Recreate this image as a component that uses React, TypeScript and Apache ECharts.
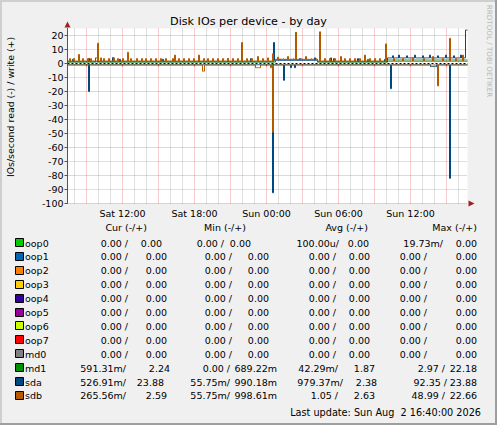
import React, { useEffect, useRef } from "react";
import * as echarts from "echarts";

// ---------- time axis: 5-minute steps, Sat 07:25 -> Sun 16:45 ----------
const START_MINUTE = 7 * 60 + 25;
const STEP_MINUTES = 5;
const STEPS = 400;

// ---------- devices ----------
const deviceNames = ["oop0", "oop1", "oop2", "oop3", "oop4", "oop5", "oop6", "oop7", "md0", "md1", "sda", "sdb"];

// base levels: [stepIndex, value] (value holds until the next entry); spikes: [stepIndex, value]
const zeroBase = [[0, 0]];
const md1WriteBase = [[0, 1.0], [208, 2.8], [250, 1.0], [320, 2.5]];
const md1WriteSpikes = [[28, 4], [29, 4], [228, 22.18], [300, 3]];
const md1ReadBase = [[0, 0.03]];
const md1ReadSpikes = [[21, 0.8], [205, 2.97]];

const sdaWriteBase = [[0, 1.3], [206, 2.2], [250, 1.3], [320, 4.0], [398, 23.88]];
const sdaWriteSpikes = [[5, 3], [21, 3.6], [45, 4.2], [52, 3], [95, 3], [131, 4], [160, 3.4], [183, 3.5], [206, 15], [212, 3], [232, 3.5], [247, 4], [263, 4], [266, 3.5], [290, 3.5], [317, 3], [325, 5.5], [331, 6], [339, 5.5], [347, 6], [355, 5.5], [362, 6], [370, 5.5], [378, 6], [386, 5.5], [393, 6]];
const sdaReadBase = [[0, 0.9], [363, 2.2], [369, 0.9]];
const sdaReadSpikes = [[21, 20], [205, 92.35], [216, 12], [223, 3], [227, 3], [323, 18], [382, 82]];

const sdbWriteBase = [[0, 1.8], [208, 3.0], [250, 1.8], [320, 1.5]];
const sdbWriteSpikes = [[2, 3.5], [6, 3.5], [11, 6.5], [15, 3.5], [20, 3.5], [23, 3.5], [30, 14.5], [33, 4], [36, 3.5], [41, 3.5], [46, 4], [50, 3.5], [55, 3.5], [60, 8], [63, 3.5], [69, 3.5], [74, 3.5], [78, 3.5], [83, 3.5], [88, 3.5], [93, 3.5], [98, 3.5], [105, 3.5], [107, 6], [111, 3.5], [116, 3.5], [121, 3.5], [126, 3.5], [131, 6], [136, 3.5], [140, 3.5], [145, 3.5], [150, 3.5], [155, 3.5], [160, 3.5], [165, 3.5], [170, 3.5], [174, 15], [179, 3.5], [184, 3.5], [190, 5], [195, 3.5], [200, 4], [205, 7], [210, 4.5], [215, 3.5], [220, 5], [225, 3.5], [228, 22], [233, 3.5], [238, 5], [243, 3.5], [248, 3.5], [252, 22.66], [257, 3.5], [262, 3.5], [267, 3.5], [273, 5], [277, 3.5], [282, 3.5], [287, 3.5], [292, 3.5], [297, 6], [302, 3.5], [307, 3.5], [312, 3.5], [318, 14], [326, 3.5], [335, 3.5], [345, 4], [356, 3.5], [365, 5], [375, 3.5], [382, 18], [388, 3.5], [395, 6]];
const sdbReadBase = [[0, 1.1], [188, 3], [193, 1.1]];
const sdbReadSpikes = [[135, 5.5], [136, 5.5], [203, 3], [205, 49], [370, 16]];

// ---------- legend values: [cur-, cur+, min-, min+, avg-, avg+, max-, max+] ----------
const zeroRow = ["0.00 /", "0.00", "0.00 /", "0.00", "0.00 /", "0.00", "0.00 /", "0.00"];
const oop0Row = ["0.00 /", "0.00", "0.00 /", "0.00", "100.00u/", "0.00", "19.73m/", "0.00"];
const md1Row = ["591.31m/", "2.24", "0.00 /", "689.22m", "42.29m/", "1.87", "2.97 /", "22.18"];
const sdaRow = ["526.91m/", "23.88", "55.75m/", "990.18m", "979.37m/", "2.38", "92.35 /", "23.88"];
const sdbRow = ["265.56m/", "2.59", "55.75m/", "998.61m", "1.05 /", "2.63", "48.99 /", "22.66"];
const legendRows = [oop0Row, zeroRow, zeroRow, zeroRow, zeroRow, zeroRow, zeroRow, zeroRow, zeroRow, md1Row, sdaRow, sdbRow];
const legendHeaders = ["Cur (-/+)", "Min (-/+)", "Avg (-/+)", "Max (-/+)"];
const lastUpdate = "Last update: Sun Aug  2 16:40:00 2026";
const yTickLabels = [-100, -90, -80, -70, -60, -50, -40, -30, -20, -10, 0, 10, 20];

// ---------- styles / layout ----------
const COLORS = ["#00CC00", "#0066B3", "#FF8000", "#FFCC00", "#330099", "#990099", "#CCFF00", "#FF0000", "#808080", "#008F00", "#00487D", "#B35A00"];
const FONT = "DejaVu Sans";
const FS = 9.5;
const GRID = { left: 67.5, top: 28.5, width: 400, height: 175 };
const COL_RIGHT_DEFAULT = [128, 167, 232, 269, 336, 370, 427, 477];
const COL_RIGHT_OVERRIDE: Record<number, number[]> = {
  0: [128, 162, 224, 251, 339, 369, 443, 477],
  9: [126, 170, 230, 277, 338, 375, 445, 477],
  10: [126, 164, 230, 277, 343, 377, 447, 477],
  11: [126, 167, 230, 277, 338, 375, 445, 477],
};
const HEADER_RIGHT = [147, 246, 368, 477];
const ROW0_Y = 243;
const ROW_STEP = 13.9;

function minuteOf(i: number) {
  return START_MINUTE + i * STEP_MINUTES;
}
function pad(n: number) {
  return n < 10 ? "0" + n : "" + n;
}
const categories = Array.from({ length: STEPS + 1 }, (_, i) => {
  const m = minuteOf(i);
  const day = m >= 1440 ? "Sun" : "Sat";
  const mm = m % 1440;
  return `${day} ${pad(Math.floor(mm / 60))}:${pad(mm % 60)}`;
});

function build(base: number[][], spikes: number[][], sign: number) {
  const sp = new Map<number, number>();
  spikes.forEach(([i, v]) => sp.set(i, v));
  const out: number[] = [];
  let b = 0;
  for (let i = 0; i <= STEPS; i++) {
    while (b + 1 < base.length && base[b + 1][0] <= i) b++;
    const v = sp.has(i) ? (sp.get(i) as number) : base[b][1];
    out.push(sign * v);
  }
  return out;
}

const seriesDefs = deviceNames.map((name) => {
  if (name === "md1") return { name, w: build(md1WriteBase, md1WriteSpikes, 1), r: build(md1ReadBase, md1ReadSpikes, -1) };
  if (name === "sda") return { name, w: build(sdaWriteBase, sdaWriteSpikes, 1), r: build(sdaReadBase, sdaReadSpikes, -1) };
  if (name === "sdb") return { name, w: build(sdbWriteBase, sdbWriteSpikes, 1), r: build(sdbReadBase, sdbReadSpikes, -1) };
  return { name, w: build(zeroBase, [], 1), r: build(zeroBase, [], -1) };
});

function txt(text: string, x: number, y: number, opts: any = {}) {
  const align = opts.align || "left";
  return {
    type: "text",
    x,
    y,
    rotation: opts.rotation || 0,
    z: 100,
    style: {
      text,
      fill: opts.fill || "#000",
      fontSize: opts.size || FS,
      fontFamily: FONT,
      align,
      textAlign: align,
      verticalAlign: "middle",
      textVerticalAlign: "middle",
    },
  };
}

export default function App() {
  const ref = useRef<HTMLDivElement>(null);
  useEffect(() => {
    document.body.style.margin = "0";
    const chart = echarts.init(ref.current as HTMLDivElement, null, { renderer: "svg" });

    const series: any[] = [];
    seriesDefs.forEach((d, k) => {
      series.push({
        type: "line", name: d.name + "_read", data: d.r, step: "end", symbol: "none", silent: true,
        lineStyle: { color: COLORS[k], width: 1 }, itemStyle: { color: COLORS[k] }, z: 2 + k * 2,
      });
      series.push({
        type: "line", name: d.name, data: d.w, step: "end", symbol: "none", silent: true,
        lineStyle: { color: COLORS[k], width: 1 }, itemStyle: { color: COLORS[k] }, z: 3 + k * 2,
      });
    });
    // zero rule drawn over the lines: white base with black dashes
    series.push({
      type: "line", name: "zero", data: [], silent: true, z: 40,
      markLine: {
        silent: true, symbol: "none", label: { show: false }, z: 40,
        data: [
          { yAxis: 0, lineStyle: { color: "#FFFFFF", width: 1, type: "solid" } },
          { yAxis: 0, lineStyle: { color: "#000000", width: 1, type: [2, 2] } },
        ],
      },
    });

    const graphics: any[] = [];
    // frame
    graphics.push({ type: "rect", shape: { x: 0, y: 0, width: 497, height: 2 }, style: { fill: "#CFCFCF" }, z: 90 });
    graphics.push({ type: "rect", shape: { x: 0, y: 0, width: 2, height: 425 }, style: { fill: "#CFCFCF" }, z: 90 });
    graphics.push({ type: "rect", shape: { x: 495, y: 0, width: 2, height: 425 }, style: { fill: "#9E9E9E" }, z: 91 });
    graphics.push({ type: "rect", shape: { x: 0, y: 423, width: 497, height: 2 }, style: { fill: "#9E9E9E" }, z: 91 });
    // arrows
    const gl = GRID.left, gt = GRID.top, gb = GRID.top + GRID.height, gr = GRID.left + GRID.width;
    graphics.push({ type: "polygon", shape: { points: [[gl, gt - 7], [gl - 3, gt - 1], [gl + 3, gt - 1]] }, style: { fill: "#A02020" }, z: 95 });
    graphics.push({ type: "polygon", shape: { points: [[gr + 7, gb], [gr + 1, gb - 3], [gr + 1, gb + 3]] }, style: { fill: "#A02020" }, z: 95 });
    // title, axis name, watermark
    graphics.push(txt("Disk IOs per device - by day", 248.5, 21, { align: "center", size: 11.2 }));
    graphics.push(txt("IOs/second read (-) / write (+)", 10, 107, { align: "center", size: 9.4, rotation: Math.PI / 2 }));
    graphics.push(txt("RRDTOOL / TOBI OETIKER", 489, 51, { align: "center", size: 7.2, rotation: -Math.PI / 2, fill: "#B8B8B8" }));
    // legend
    legendHeaders.forEach((h, j) => graphics.push(txt(h, HEADER_RIGHT[j], 227, { align: "right" })));
    deviceNames.forEach((name, k) => {
      const y = ROW0_Y + k * ROW_STEP;
      graphics.push({ type: "rect", shape: { x: 15.5, y: Math.round(y) - 4.5, width: 8, height: 8 }, style: { fill: COLORS[k], stroke: "#000", lineWidth: 1 }, z: 99 });
      graphics.push(txt(name, 25, y));
      const cols = COL_RIGHT_OVERRIDE[k] || COL_RIGHT_DEFAULT;
      legendRows[k].forEach((v, j) => graphics.push(txt(v, cols[j], y, { align: "right" })));
    });
    graphics.push(txt(lastUpdate, 481, 412, { align: "right", size: 9.7 }));

    chart.setOption({
      animation: false,
      backgroundColor: "#F0F0F0",
      grid: { ...GRID, show: true, backgroundColor: "#FFFFFF", borderWidth: 0, containLabel: false },
      xAxis: [
        {
          type: "category", data: categories, boundaryGap: false,
          axisLine: { show: true, lineStyle: { color: "#555", width: 1 } },
          axisTick: { show: true, interval: (i: number) => minuteOf(i) % 180 === 0, length: 3, lineStyle: { color: "#D24C4C" } },
          axisLabel: { interval: (i: number) => minuteOf(i) % 360 === 0, color: "#000", fontFamily: FONT, fontSize: FS, margin: 5 },
          splitLine: { show: true, interval: (i: number) => minuteOf(i) % 60 === 0 && minuteOf(i) % 180 !== 0, lineStyle: { color: "rgba(143,143,143,0.55)", width: 1, type: [1, 1] } },
        },
        {
          type: "category", data: categories, boundaryGap: false,
          axisLine: { show: false }, axisTick: { show: false }, axisLabel: { show: false },
          splitLine: { show: true, interval: (i: number) => minuteOf(i) % 180 === 0, lineStyle: { color: "rgba(227,90,90,0.6)", width: 1, type: [1, 1] } },
        },
      ],
      yAxis: {
        type: "value", min: -100, max: 25, interval: 5,
        axisLine: { show: true, lineStyle: { color: "#555", width: 1 } },
        axisTick: { show: true, customValues: yTickLabels, length: 3, lineStyle: { color: "#555" } },
        axisLabel: { customValues: yTickLabels, color: "#000", fontFamily: FONT, fontSize: FS, margin: 4, formatter: (v: number) => (v % 10 === 0 ? String(v) : "") },
        splitLine: { show: true, lineStyle: { color: ["rgba(227,90,90,0.6)", "rgba(143,143,143,0.55)"], width: 1, type: [1, 1] } },
      },
      series,
      graphic: graphics,
    });
    return () => chart.dispose();
  }, []);
  return <div ref={ref} style={{ width: 497, height: 425 }} />;
}
